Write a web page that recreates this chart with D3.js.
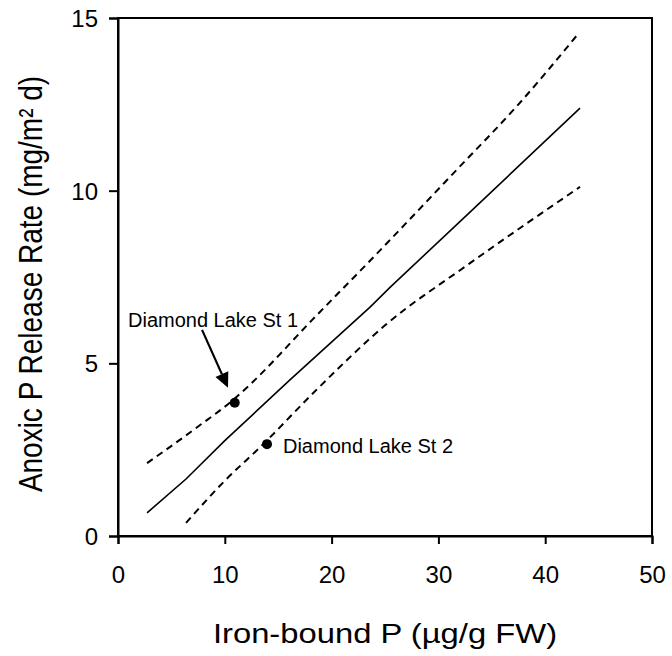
<!DOCTYPE html>
<html><head><meta charset="utf-8">
<script src="https://cdn.jsdelivr.net/npm/d3@7"></script>
<style>body{margin:0;background:#fff}svg{display:block}text{font-family:Arial,"Liberation Sans",sans-serif;fill:#000}</style>
</head><body><svg id="c" width="672" height="656"></svg>
<script>
// Data (Iron-bound P, Anoxic P release rate)
const xTicks = [0, 10, 20, 30, 40, 50];
const yTicks = [0, 5, 10, 15];
const fitLine = [[2.72,0.67],[6.37,1.65],[10.0,2.76],[16.1,4.52],[23.6,6.63],[25.47,7.2],[32.96,9.38],[43.26,12.39]];
const upperBand = [[2.72,2.11],[7.5,3.17],[10.93,3.98],[12.48,4.42],[18.16,6.25],[24,8.1],[31.7,10.6],[37.5,12.5],[42.98,14.5]];
const lowerBand = [[6.37,0.38],[10,1.6],[13.4,2.6],[18.7,4.27],[25,6.1],[32.96,7.9],[43.26,10.11]];
const stations = ["Diamond Lake St 1", "Diamond Lake St 2"];
const stationX = [10.93, 13.95];
const stationY = [3.86, 2.66];
const arrowFrom = [7.87, 5.97];
const arrowTo = [10.3, 4.29];

const svg = d3.select("#c");
const L = 118, R = 652, T = 18, B = 536;
const x = d3.scaleLinear().domain([0, 50]).range([L, R]);
const y = d3.scaleLinear().domain([0, 15]).range([B, T]);

// frame
svg.append("rect").attr("x", L).attr("y", T).attr("width", R - L).attr("height", B - T)
  .attr("fill", "none").attr("stroke", "#000").attr("stroke-width", 2);

const xa = svg.append("g").attr("transform", `translate(0,${B})`)
  .call(d3.axisBottom(x).tickValues(xTicks).tickSizeOuter(0).tickSize(8).tickPadding(22));
const ya = svg.append("g").attr("transform", `translate(${L},0)`)
  .call(d3.axisLeft(y).tickValues(yTicks).tickSizeOuter(0).tickSize(9).tickPadding(11));
[xa, ya].forEach(a => {
  a.select(".domain").attr("stroke-width", 2);
  a.selectAll(".tick line").attr("stroke-width", 2);
  a.selectAll("text").attr("font-size", 24).attr("font-family", "Arial, 'Liberation Sans', sans-serif").attr("fill", "#000");
});
ya.selectAll("text").attr("dy", "0.35em");

const line = d3.line().x(d => x(d[0])).y(d => y(d[1]));
const smooth = d3.line().x(d => x(d[0])).y(d => y(d[1])).curve(d3.curveMonotoneX);
svg.append("path").datum(fitLine).attr("d", line).attr("fill", "none").attr("stroke", "#000").attr("stroke-width", 1.6);
[upperBand, lowerBand].forEach(b => {
  svg.append("path").datum(b).attr("d", smooth).attr("fill", "none").attr("stroke", "#000")
    .attr("stroke-width", 2).attr("stroke-dasharray", "7,5");
});

svg.selectAll("circle.pt").data(stationX).join("circle").attr("class", "pt")
  .attr("cx", d => x(d)).attr("cy", (d, i) => y(stationY[i])).attr("r", 5).attr("fill", "#000");

// labels
svg.append("text").attr("x", 128).attr("y", 327).attr("font-size", 20).text(stations[0]);
svg.append("text").attr("x", x(stationX[1]) + 16).attr("y", y(stationY[1]) + 9).attr("font-size", 20).text(stations[1]);

// arrow
const ax0 = x(arrowFrom[0]), ay0 = y(arrowFrom[1]), ax1 = x(arrowTo[0]), ay1 = y(arrowTo[1]);
const ang = Math.atan2(ay1 - ay0, ax1 - ax0);
const hl = 15, hw = 7;
const bx = ax1 - hl * Math.cos(ang), by = ay1 - hl * Math.sin(ang);
svg.append("line").attr("x1", ax0).attr("y1", ay0).attr("x2", bx).attr("y2", by).attr("stroke", "#000").attr("stroke-width", 2.2);
svg.append("path").attr("d", `M${ax1},${ay1}L${bx + hw * Math.sin(ang)},${by - hw * Math.cos(ang)}L${bx - hw * Math.sin(ang)},${by + hw * Math.cos(ang)}Z`).attr("fill", "#000");

// axis titles (glyphs slightly wider than tall, as in the reference)
svg.append("text").attr("transform", `translate(${(L + R) / 2},643) scale(1.17,1)`).attr("text-anchor", "middle").attr("font-size", 28).text("Iron-bound P (µg/g FW)");
svg.append("text").attr("transform", `translate(42,284) rotate(-90) scale(1,1.2)`).attr("text-anchor", "middle").attr("font-size", 28).text("Anoxic P Release Rate (mg/m² d)");
</script></body></html>
